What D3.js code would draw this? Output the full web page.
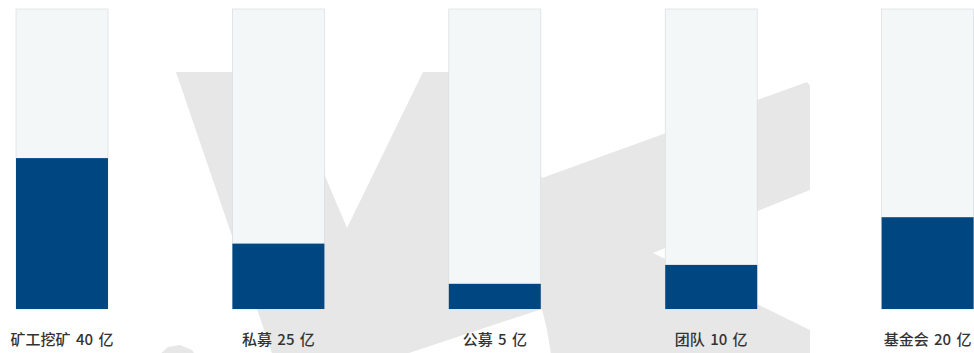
<!DOCTYPE html>
<html>
<head>
<meta charset="utf-8">
<script src="https://cdn.jsdelivr.net/npm/d3@7"></script>
<style>
  html, body { margin: 0; padding: 0; background: #ffffff; }
  svg { display: block; }
</style>
</head>
<body>
<svg id="chart" width="974" height="353"></svg>
<script>
// ---- data ----
const categories = ["矿工挖矿", "私募", "公募", "团队", "基金会"];
const amounts = [40, 25, 5, 10, 20];          // 亿
const fillShares = [0.503, 0.218, 0.084, 0.147, 0.306]; // filled portion of each bar as drawn
const unit = "亿";

const W = 974, H = 353;
const svg = d3.select("#chart");

// ---- background watermark (decorative logo) ----
const wm = svg.append("g").attr("fill", "#e7e7e7");
wm.append("path").attr("d",
  "M176,72 L281,72 L347,228 L423,72 L500,72 L542,178 L807,82 L810,86 L810,190 " +
  "L653,253 L810,330 L810,360 L552,360 L547,330 L542,309 L400,356 L273,356 Z");
wm.append("path").attr("d", "M158,356 L168,347 L180,345 L192,350 L196,356 Z");

// ---- scales ----
const x = d3.scaleBand()
  .domain(categories)
  .range([16, 973.6])
  .paddingInner(0.575)
  .paddingOuter(0);

const y = d3.scaleLinear().domain([0, 1]).range([309, 9]);

const data = categories.map((c, i) => ({ c, amount: amounts[i], share: fillShares[i] }));

const g = svg.append("g");

// background track
g.selectAll("rect.track")
  .data(data)
  .join("rect")
  .attr("class", "track")
  .attr("x", d => x(d.c))
  .attr("y", y(1))
  .attr("width", x.bandwidth())
  .attr("height", y(0) - y(1))
  .attr("fill", "#f4f7f8")
  .attr("stroke", "#d9dcde")
  .attr("stroke-width", 0.7);

// filled part
g.selectAll("rect.fill")
  .data(data)
  .join("rect")
  .attr("class", "fill")
  .attr("x", d => x(d.c))
  .attr("y", d => y(d.share))
  .attr("width", x.bandwidth())
  .attr("height", d => y(0) - y(d.share))
  .attr("fill", "#004681");

// labels
g.selectAll("text.label")
  .data(data)
  .join("text")
  .attr("class", "label")
  .attr("x", d => x(d.c) + x.bandwidth() / 2)
  .attr("y", 345)
  .attr("text-anchor", "middle")
  .attr("font-family", "'Noto Sans CJK SC', 'Noto Sans', sans-serif")
  .attr("font-size", 15)
  .attr("font-weight", 500)
  .attr("word-spacing", 2)
  .attr("fill", "#333333")
  .text(d => `${d.c} ${d.amount} ${unit}`);
</script>
</body>
</html>
